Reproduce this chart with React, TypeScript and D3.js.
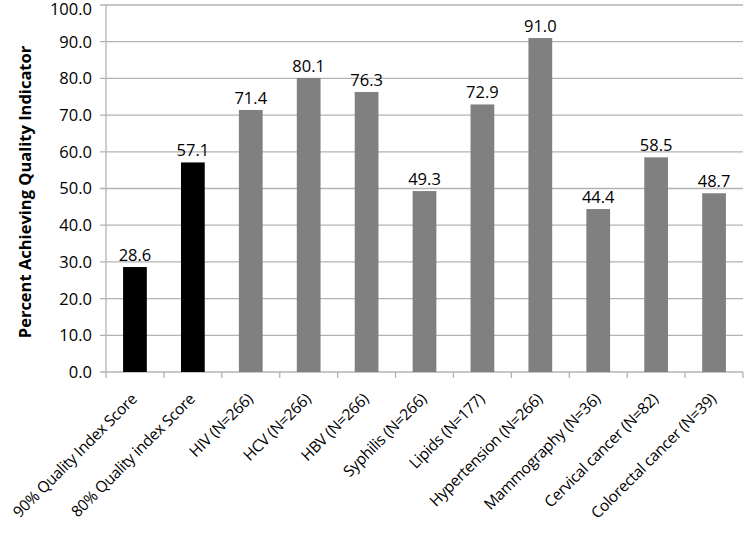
import React from 'react';
import * as d3 from 'd3';

const categories = [
  '90% Quality Index Score',
  '80% Quality index Score',
  'HIV (N=266)',
  'HCV (N=266)',
  'HBV (N=266)',
  'Syphilis (N=266)',
  'Lipids  (N=177)',
  'Hypertension (N=266)',
  'Mammography (N=36)',
  'Cervical cancer (N=82)',
  'Colorectal cancer (N=39)',
];
const values = [28.6, 57.1, 71.4, 80.1, 76.3, 49.3, 72.9, 91.0, 44.4, 58.5, 48.7];
const barColors = ['#000000', '#000000', '#808080', '#808080', '#808080', '#808080', '#808080', '#808080', '#808080', '#808080', '#808080'];
const yTicks = [0, 10, 20, 30, 40, 50, 60, 70, 80, 90, 100];

const W = 744;
const H = 535;
const left = 106;
const right = 743;
const top = 5;
const bottom = 372;
const font = 'Open Sans, sans-serif';

export default function App() {
  const x = d3.scaleBand<string>().domain(categories).range([left, right]).paddingInner(0.59).paddingOuter(0.295);
  const band = d3.scaleBand<string>().domain(categories).range([left, right]);
  const y = d3.scaleLinear().domain([0, 100]).range([bottom, top]);

  return (
    <svg width={W} height={H} style={{ position: 'absolute', left: 0, top: 0, background: '#fff' }}>
      {/* gridlines */}
      {yTicks.map(t => (
        <g key={t}>
          <line x1={left - 6} x2={right} y1={y(t)} y2={y(t)} stroke="#b3b3b3" strokeWidth={1.3} />
          <text x={92} y={y(t)} dy={t === 100 ? '0.58em' : '0.36em'} textAnchor="end" fontFamily={font} fontSize={16.5} fill="#000">
            {d3.format('.1f')(t)}
          </text>
        </g>
      ))}
      <line x1={left} x2={left} y1={top} y2={bottom} stroke="#b3b3b3" strokeWidth={1.3} />
      {/* x ticks */}
      {categories.concat(['__end']).map((c, i) => {
        const xx = left + i * band.bandwidth();
        return <line key={c} x1={xx} x2={xx} y1={bottom} y2={bottom + 6} stroke="#b3b3b3" strokeWidth={1.3} />;
      })}
      {/* bars */}
      {categories.map((c, i) => (
        <rect key={c} x={x(c)} y={y(values[i])} width={x.bandwidth()} height={bottom - y(values[i])} fill={barColors[i]} />
      ))}
      {/* value labels */}
      {categories.map((c, i) => (
        <text key={c} x={(x(c) as number) + x.bandwidth() / 2} y={y(values[i]) - 6} textAnchor="middle" fontFamily={font} fontSize={16.5} fill="#000">
          {d3.format('.1f')(values[i])}
        </text>
      ))}
      {/* category labels */}
      {categories.map(c => {
        const cx = (band(c) as number) + band.bandwidth() / 2 + 3;
        const cy = bottom + 28;
        return (
          <text key={c} transform={`translate(${cx},${cy}) rotate(-45)`} textAnchor="end" fontFamily={font} fontSize={15.5} letterSpacing={-0.3} fill="#000">
            {c}
          </text>
        );
      })}
      {/* y title */}
      <text transform={`translate(31,192) rotate(-90)`} textAnchor="middle" fontFamily={font} fontSize={16.5} fontWeight="bold" fill="#000">
        Percent Achieving Quality Indicator
      </text>
    </svg>
  );
}
